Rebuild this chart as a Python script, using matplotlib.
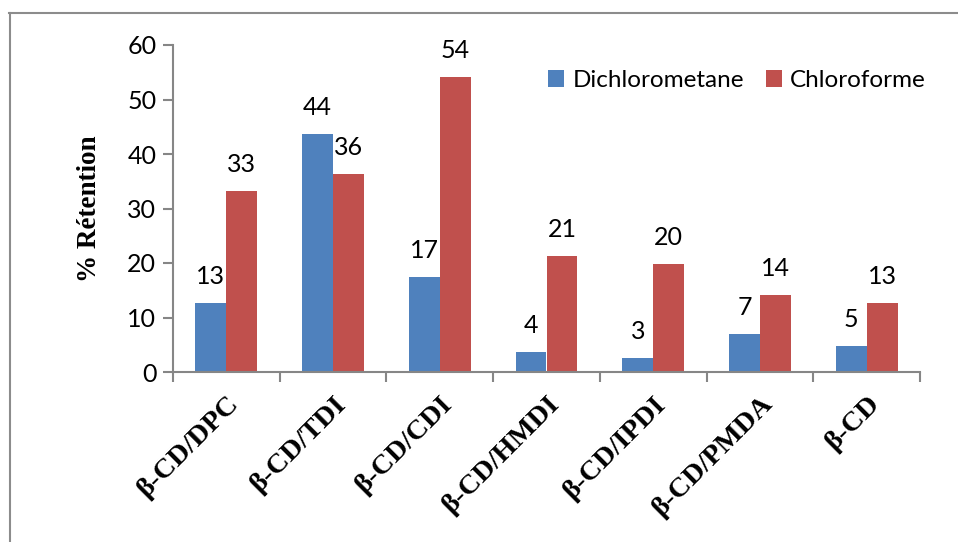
import matplotlib
matplotlib.use("Agg")
import matplotlib.pyplot as plt
import matplotlib.transforms as mtransforms
import numpy as np
from matplotlib.lines import Line2D

categories = ["β-CD/DPC", "β-CD/TDI", "β-CD/CDI", "β-CD/HMDI", "β-CD/IPDI", "β-CD/PMDA", "β-CD"]
dichloro = [12.7, 43.6, 17.4, 3.7, 2.6, 7.0, 4.8]
chloro = [33.2, 36.3, 54.1, 21.3, 19.8, 14.1, 12.7]
series_names = ["Dichlorometane", "Chloroforme"]
yticks = [0, 10, 20, 30, 40, 50, 60]

BLUE = "#4F81BD"
RED = "#C0504D"
GRAY = "#868686"
SANS = ["Lato", "DejaVu Sans"]
SERIF = ["Liberation Serif", "DejaVu Serif"]

fig = plt.figure(figsize=(9.58, 5.42), dpi=100)
ax = fig.add_axes([173/958, 1-372/542, (920-173)/958, (372-45)/542])

x = np.arange(len(categories))
w = 0.29
b1 = ax.bar(x - w/2, dichloro, w, color=BLUE, label=series_names[0], zorder=2)
b2 = ax.bar(x + w/2, chloro, w, color=RED, label=series_names[1], zorder=2)

for bars, vals in ((b1, dichloro), (b2, chloro)):
    for rect, v in zip(bars, vals):
        ax.annotate(f"{v:.0f}", (rect.get_x() + rect.get_width()/2, v),
                    xytext=(0, 11), textcoords="offset points",
                    ha="center", va="bottom", fontsize=18, family=SANS)

ax.set_xlim(-0.5, len(categories) - 0.5)
ax.set_ylim(0, 60)
ax.set_yticks(yticks)
ax.set_yticklabels([str(t) for t in yticks], family=SANS, fontsize=18)

ax.set_xticks(x)
ax.set_xticklabels(categories, rotation=45, ha="right", va="top",
                   rotation_mode="anchor", family=SERIF, fontsize=20.5, fontweight="bold")
offset = mtransforms.ScaledTranslation(-6/100, 0, fig.dpi_scale_trans)
for lbl in ax.get_xticklabels():
    lbl.set_transform(lbl.get_transform() + offset)
ax.set_xticks(np.arange(len(categories) + 1) - 0.5, minor=True)
ax.tick_params(axis="x", which="major", length=0, pad=14)
ax.tick_params(axis="x", which="minor", length=7, width=1.5, color=GRAY, direction="out")
ax.tick_params(axis="y", length=7, width=1.5, color=GRAY, direction="out", pad=5)

for s in ("top", "right"):
    ax.spines[s].set_visible(False)
for s in ("left", "bottom"):
    ax.spines[s].set_color(GRAY)
    ax.spines[s].set_linewidth(1.5)

ax.set_ylabel("% Rétention", family=SERIF, fontsize=19.5, fontweight="bold")
ax.yaxis.set_label_coords(-0.095, 0.5)

leg = ax.legend(loc="upper right", bbox_to_anchor=(1.037, 0.99), frameon=False,
                ncol=2, prop={"family": SANS, "size": 17.5},
                handlelength=0.65, handleheight=0.65, handletextpad=0.35, columnspacing=0.9)

# outer chart frame (top and left visible)
fig.add_artist(Line2D([9/958, 1.0], [1-13/542, 1-13/542], transform=fig.transFigure, color="#8c8c8c", lw=1.5))
fig.add_artist(Line2D([9.5/958, 9.5/958], [0, 1-13/542], transform=fig.transFigure, color="#8c8c8c", lw=1.5))

fig.savefig("out.png", dpi=100)
